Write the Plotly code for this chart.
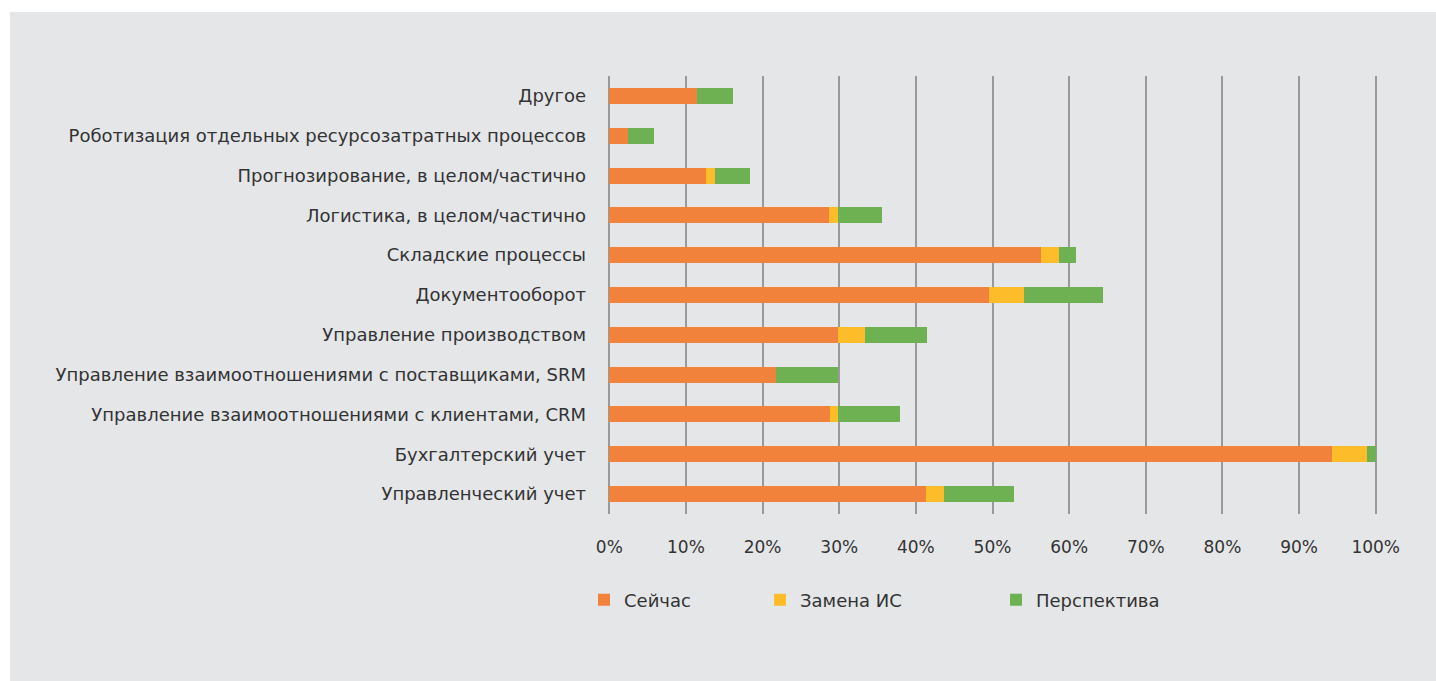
import plotly.graph_objects as go

categories = [
    "Управленческий учет",
    "Бухгалтерский учет",
    "Управление взаимоотношениями с клиентами, CRM",
    "Управление взаимоотношениями с поставщиками, SRM",
    "Управление производством",
    "Документооборот",
    "Складские процессы",
    "Логистика, в целом/частично",
    "Прогнозирование, в целом/частично",
    "Роботизация отдельных ресурсозатратных процессов",
    "Другое",
]
now_vals = [41.3, 94.3, 28.8, 21.8, 29.9, 49.5, 56.3, 28.7, 12.6, 2.4, 11.5]
replace_vals = [2.4, 4.5, 1.0, 0.0, 3.5, 4.6, 2.4, 1.2, 1.2, 0.0, 0.0]
future_vals = [9.1, 1.2, 8.1, 8.0, 8.0, 10.3, 2.2, 5.7, 4.6, 3.4, 4.6]

series_names = ["Сейчас", "Замена ИС", "Перспектива"]
series_colors = ["#F1823B", "#FDBC2A", "#6DB153"]
tick_vals = [0, 10, 20, 30, 40, 50, 60, 70, 80, 90, 100]
tick_text = [f"{v}%" for v in tick_vals]

FONT = "DejaVu Sans"
FS = 18
TEXT = "#333333"
BG = "#E5E6E8"

fig = go.Figure()
legend_ids = ["legend", "legend2", "legend3"]
for name, vals, col, lg in zip(series_names, [now_vals, replace_vals, future_vals], series_colors, legend_ids):
    fig.add_trace(go.Bar(
        y=categories, x=vals, name=name, orientation="h",
        marker=dict(color=col, line=dict(width=0)),
        legend=lg, showlegend=True,
    ))

W, H = 1436, 681
PAD = 0.3  # % of range padding so edge gridlines are drawn
px_per = 767 / 100.0
L = round(609 - PAD * px_per)
R = round(W - (1376 + PAD * px_per))
T, B = 76, 167
pw, ph = W - L - R, H - T - B

def px_x(p):
    return (p - L) / pw

def px_y(p):
    return (H - B - p) / ph

leg_common = dict(
    orientation="h", yanchor="middle", xanchor="left",
    bgcolor="rgba(0,0,0,0)", font=dict(family=FONT, size=FS, color=TEXT),
    itemclick=False, visible=True,
)
legend_y = px_y(600)

fig.update_layout(
    width=W, height=H,
    margin=dict(l=L, r=R, t=T, b=B, autoexpand=False),
    barmode="stack", bargap=0.6,
    showlegend=True,
    paper_bgcolor=BG, plot_bgcolor=BG,
    font=dict(family=FONT, size=FS, color=TEXT),
    xaxis=dict(
        range=[-PAD, 100 + PAD], tickvals=tick_vals, ticktext=tick_text,
        tickfont=dict(family=FONT, size=17, color=TEXT),
        showgrid=True, gridcolor="#999999", gridwidth=2,
        zeroline=False, showline=False, ticks="",
        ticklabelstandoff=21, fixedrange=True,
    ),
    yaxis=dict(
        showgrid=False, zeroline=False, showline=False, ticks="",
        ticklabelstandoff=20, fixedrange=True,
    ),
    legend=dict(x=px_x(584), y=legend_y, **leg_common),
    legend2=dict(x=px_x(760), y=legend_y, **leg_common),
    legend3=dict(x=px_x(996), y=legend_y, **leg_common),
    shapes=[
        dict(type="rect", xref="paper", yref="paper", x0=px_x(-5), x1=px_x(10),
             y0=px_y(H + 5), y1=px_y(-5), fillcolor="white", line=dict(width=0), layer="below"),
        dict(type="rect", xref="paper", yref="paper", x0=px_x(-5), x1=px_x(W + 5),
             y0=px_y(12), y1=px_y(-5), fillcolor="white", line=dict(width=0), layer="below"),
    ],
)

fig.write_html("out.html")
